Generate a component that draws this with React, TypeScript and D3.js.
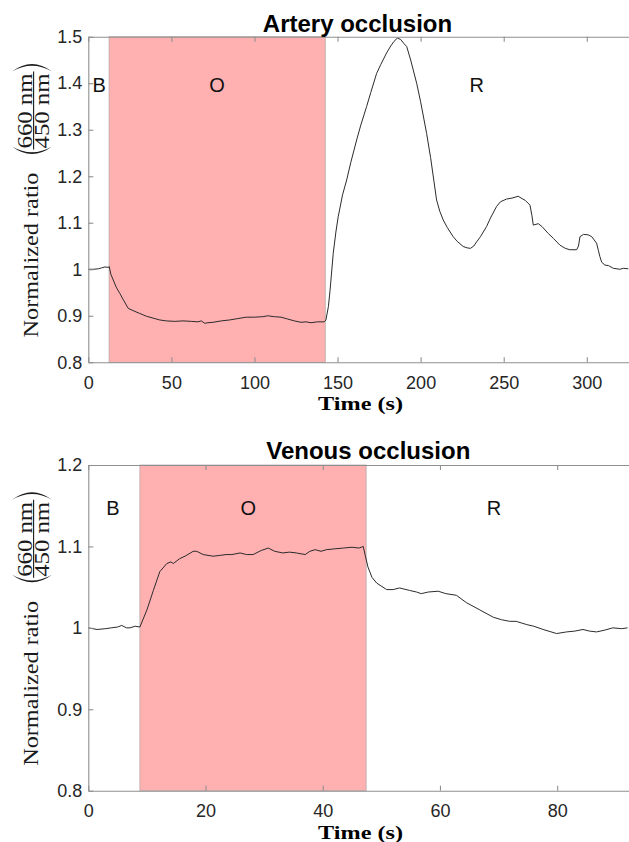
import React, { useEffect, useRef } from "react";
import * as d3 from "d3";

// artery occlusion trace (time s, normalized ratio)
const artT = [0, 3, 6, 8, 10, 12, 12.6, 13.5, 15, 17, 19, 21, 24, 27, 31, 35, 39, 43, 47, 52, 57, 62, 66, 68, 70, 72, 75, 80, 85, 90, 95, 100, 105, 108, 112, 116, 120, 124, 128, 131, 134, 138, 142, 143, 144.5, 145.5, 147.4, 149, 150.4, 153, 155.5, 158, 161.5, 164, 167.5, 170, 173.5, 176, 179.5, 182, 184, 186, 188, 190, 191.6, 194, 197.6, 200, 203.6, 206, 209.6, 211.5, 213.6, 216, 219.6, 222, 225.6, 228, 230, 232, 233.7, 236, 239.7, 242, 245.7, 248, 251.7, 255, 258.7, 261, 263, 265.8, 267, 267.8, 270.8, 273, 276.8, 280, 283.8, 287, 289.8, 293.9, 295, 295.9, 298, 300.9, 303, 305.9, 307, 307.9, 309, 310.9, 313, 316, 319.9, 322, 325];
const artV = [1.0, 1.0, 1.001, 1.003, 1.005, 1.004, 1.006, 0.99, 0.977, 0.96, 0.948, 0.935, 0.916, 0.911, 0.905, 0.899, 0.895, 0.891, 0.889, 0.888, 0.889, 0.888, 0.887, 0.889, 0.884, 0.885, 0.886, 0.889, 0.891, 0.894, 0.897, 0.897, 0.898, 0.9, 0.898, 0.897, 0.893, 0.889, 0.886, 0.887, 0.885, 0.887, 0.887, 0.891, 0.92, 0.955, 1.034, 1.08, 1.113, 1.16, 1.192, 1.23, 1.278, 1.31, 1.35, 1.38, 1.421, 1.44, 1.465, 1.48, 1.49, 1.497, 1.494, 1.485, 1.479, 1.45, 1.4, 1.36, 1.292, 1.24, 1.149, 1.125, 1.106, 1.09, 1.07, 1.06, 1.049, 1.046, 1.045, 1.05, 1.059, 1.07, 1.092, 1.11, 1.135, 1.145, 1.151, 1.153, 1.157, 1.152, 1.148, 1.138, 1.115, 1.095, 1.098, 1.092, 1.077, 1.066, 1.052, 1.045, 1.042, 1.042, 1.05, 1.07, 1.075, 1.074, 1.07, 1.056, 1.04, 1.027, 1.015, 1.009, 1.008, 1.002, 1.0, 1.002, 1.001];

// venous occlusion trace
const venT = [0, 1.5, 3, 3.9, 5, 5.7, 6.5, 7.1, 8, 8.8, 10, 11.1, 12.2, 13.4, 14.1, 14.5, 15.6, 16.5, 17.9, 18.5, 19.6, 21.3, 22.5, 23.5, 24.5, 25.9, 27, 28.1, 29.5, 30.7, 31.8, 33.2, 34.3, 35.5, 37, 37.8, 38.7, 39.7, 40.6, 42, 43.5, 45, 46.2, 46.9, 47.7, 48.4, 49.2, 50.9, 52, 53.1, 54.8, 56, 56.8, 58, 59.7, 61, 62.8, 64.5, 66.8, 69.1, 70.5, 71.9, 73, 74.8, 76, 77.6, 79.9, 81.6, 83, 84.4, 85.5, 86.7, 88, 89.5, 91, 92];
const venV = [1.0, 0.998, 0.999, 1.0, 1.001, 1.003, 1.0, 1.0, 1.002, 1.001, 1.022, 1.046, 1.069, 1.079, 1.081, 1.079, 1.085, 1.088, 1.094, 1.094, 1.09, 1.088, 1.089, 1.09, 1.09, 1.092, 1.09, 1.09, 1.095, 1.098, 1.094, 1.092, 1.093, 1.092, 1.09, 1.094, 1.096, 1.094, 1.096, 1.097, 1.098, 1.099, 1.098, 1.1, 1.075, 1.062, 1.055, 1.047, 1.047, 1.049, 1.046, 1.044, 1.042, 1.044, 1.045, 1.042, 1.04, 1.031, 1.022, 1.013, 1.01, 1.008, 1.008, 1.004, 1.002, 0.998, 0.993, 0.995, 0.996, 0.998, 0.996, 0.995, 0.997, 1.0, 0.999, 1.0];

const phaseLabels = ["B", "O", "R"];
const artLabelT = [6.6, 77.4, 233.7];
const venLabelT = [4.2, 27.3, 69.2];
const artShade = [12.5, 142.6];
const venShade = [8.8, 47.4];

const artXTicks = [0, 50, 100, 150, 200, 250, 300];
const artYTicks = [0.8, 0.9, 1, 1.1, 1.2, 1.3, 1.4, 1.5];
const venXTicks = [0, 20, 40, 60, 80];
const venYTicks = [0.8, 0.9, 1, 1.1, 1.2];

const SANS = "'Liberation Sans', Arial, sans-serif";
const SERIF = "'Liberation Serif', 'DejaVu Serif', serif";
const AXIS = "#8f8f8f";

function drawPanel(svg, p) {
  const x = d3.scaleLinear().domain(p.xDomain).range([88.3, 629]);
  const y = d3.scaleLinear().domain(p.yDomain).range([p.bottom, p.top]);
  const g = svg.append("g");

  // occlusion shading
  g.append("rect")
    .attr("x", x(p.shade[0]))
    .attr("y", p.top)
    .attr("width", x(p.shade[1]) - x(p.shade[0]))
    .attr("height", p.bottom - p.top)
    .attr("fill", "#ffb0b1")
    .attr("stroke", "#b9a9a9")
    .attr("stroke-width", 0.8);

  // trace
  const line = d3.line().x((d) => x(d[0])).y((d) => y(d[1]));
  g.append("path")
    .datum(p.t.map((t, i) => [t, p.v[i]]))
    .attr("d", line)
    .attr("fill", "none")
    .attr("stroke", "#2b2b2b")
    .attr("stroke-width", 1);

  // axes (ticks pointing inward)
  const xa = g.append("g").attr("transform", `translate(0,${p.bottom})`)
    .call(d3.axisBottom(x).tickValues(p.xTicks).tickFormat(d3.format("~g")).tickSizeInner(-5).tickSizeOuter(0).tickPadding(14));
  const ya = g.append("g").attr("transform", "translate(88.3,0)")
    .call(d3.axisLeft(y).tickValues(p.yTicks).tickFormat(d3.format("~g")).tickSizeInner(-5).tickSizeOuter(0).tickPadding(6));
  const xt = g.append("g").attr("transform", `translate(0,${p.top})`)
    .call(d3.axisTop(x).tickValues(p.xTicks).tickFormat(() => "").tickSizeInner(-5).tickSizeOuter(0));
  [xa, ya, xt].forEach((a) => {
    a.selectAll("path,line").attr("stroke", AXIS).attr("stroke-width", 1.1);
    a.selectAll("text").attr("fill", "#262626").style("font-family", SANS).style("font-size", "18px");
  });

  // phase labels
  g.selectAll(".phase").data(phaseLabels).join("text")
    .attr("x", (d, i) => x(p.labelT[i]))
    .attr("y", y(p.labelV))
    .attr("dy", "0.36em")
    .attr("text-anchor", "middle")
    .style("font-family", SANS).style("font-size", "20px").attr("fill", "#111")
    .text((d) => d);

  // title
  g.append("text")
    .attr("x", p.titleX).attr("y", p.titleY)
    .attr("text-anchor", "middle")
    .style("font-family", SANS).style("font-size", "24px").style("font-weight", "bold")
    .text(p.title);

  // x label
  g.append("text")
    .attr("x", 360.5).attr("y", p.bottom + 47.8)
    .attr("text-anchor", "middle")
    .attr("textLength", 85).attr("lengthAdjust", "spacingAndGlyphs")
    .style("font-family", SERIF).style("font-size", "19px").style("font-weight", "bold")
    .text("Time (s)");

  // y label with fraction
  const yl = g.append("g")
    .attr("transform", `translate(0,${(p.top + p.bottom) / 2}) rotate(-90)`)
    .attr("fill", "#1a1a1a");
  yl.append("text")
    .attr("x", -138).attr("y", 38)
    .attr("textLength", 165).attr("lengthAdjust", "spacingAndGlyphs")
    .style("font-family", SERIF).style("font-size", "22px")
    .text("Normalized ratio");
  yl.append("text")
    .attr("x", 88.5).attr("y", 31.5).attr("text-anchor", "middle")
    .attr("textLength", 75).attr("lengthAdjust", "spacingAndGlyphs")
    .style("font-family", SERIF).style("font-size", "21px")
    .text("660 nm");
  yl.append("text")
    .attr("x", 88.5).attr("y", 48.5).attr("text-anchor", "middle")
    .attr("textLength", 75).attr("lengthAdjust", "spacingAndGlyphs")
    .style("font-family", SERIF).style("font-size", "21px")
    .text("450 nm");
  yl.append("line")
    .attr("x1", 50).attr("x2", 128).attr("y1", 33.6).attr("y2", 33.6)
    .attr("stroke", "#1a1a1a").attr("stroke-width", 1.1);
  yl.append("path").attr("d", "M 53 12 Q 38 32 53 52 Q 41.5 32 53 12 Z");
  yl.append("path").attr("d", "M 128 12 Q 143 32 128 52 Q 139.5 32 128 12 Z");
}

export default function App() {
  const ref = useRef(null);
  useEffect(() => {
    const svg = d3.select(ref.current);
    svg.selectAll("*").remove();
    drawPanel(svg, {
      t: artT, v: artV, xDomain: [0, 325.4], yDomain: [0.8, 1.5],
      top: 36.7, bottom: 362.3, shade: artShade, labelT: artLabelT, labelV: 1.396,
      xTicks: artXTicks, yTicks: artYTicks, title: "Artery occlusion", titleX: 357.5, titleY: 32.3,
    });
    drawPanel(svg, {
      t: venT, v: venV, xDomain: [0, 92.25], yDomain: [0.8, 1.2],
      top: 465, bottom: 790.7, shade: venShade, labelT: venLabelT, labelV: 1.147,
      xTicks: venXTicks, yTicks: venYTicks, title: "Venous occlusion", titleX: 368.3, titleY: 458.5,
    });
  }, []);
  return (
    <svg ref={ref} width={629} height={842}
      style={{ position: "absolute", left: 0, top: 0, background: "#fff" }} />
  );
}
